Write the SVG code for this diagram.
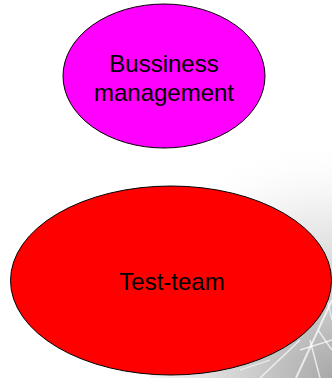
<svg xmlns="http://www.w3.org/2000/svg" width="332" height="378" viewBox="0 0 332 378">
<style>
.lbl{font-family:"Liberation Sans",Arial,sans-serif;font-size:24px;fill:#000;text-anchor:middle}
.node{stroke:#000;stroke-width:1}
.deco{stroke:#fff;stroke-opacity:0.7;fill:none}
</style>
<defs>
<radialGradient id="bg" cx="332" cy="378" r="240" gradientUnits="userSpaceOnUse">
<stop offset="0" stop-color="#a8a8a8"/>
<stop offset="0.35" stop-color="#cfcfcf"/>
<stop offset="0.75" stop-color="#f4f4f4"/>
<stop offset="1" stop-color="#fff" stop-opacity="0"/>
</radialGradient>
</defs>
<rect width="332" height="378" fill="#fff"/>
<g id="background">
<rect x="150" y="150" width="182" height="228" fill="url(#bg)"/>
<g class="deco">
<path d="M332 300 L296 378" stroke-width="2"/>
<path d="M318 330 L332 350" stroke-width="1.5"/>
<path d="M300 350 L332 340" stroke-width="1.5"/>
<path d="M260 378 L300 340" stroke-width="1.5"/>
<path d="M320 378 L310 340" stroke-width="1.5"/>
<path d="M240 370 L270 360" stroke-width="1.2"/>
<path d="M325 290 L332 320" stroke-width="1.2"/>
</g>
</g>
<g id="bussiness-management">
<ellipse class="node" cx="164" cy="76" rx="101" ry="72" fill="#ff00ff"/>
<text class="lbl" x="164" y="72">Bussiness</text>
<text class="lbl" x="164" y="101">management</text>
</g>
<g id="test-team">
<ellipse class="node" cx="171" cy="280.5" rx="160.5" ry="94.5" fill="#ff0000"/>
<text class="lbl" x="172" y="290">Test-team</text>
</g>
<g id="connectors"/>
</svg>
